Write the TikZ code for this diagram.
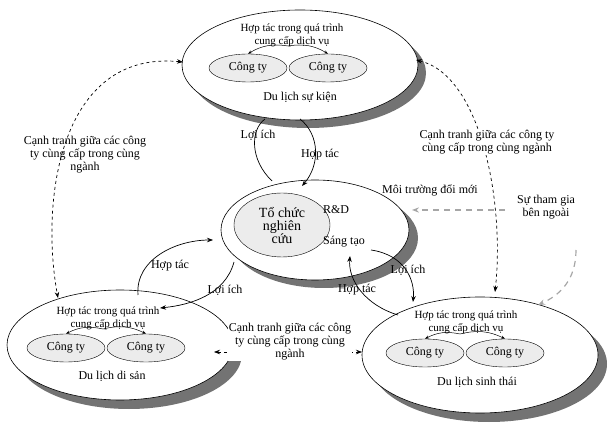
\documentclass[tikz,border=0pt]{standalone}
\usepackage{fontspec}
\setmainfont{Liberation Serif}
\usetikzlibrary{arrows.meta,shapes.geometric}
\begin{document}
\begin{tikzpicture}[x=1pt,y=-1pt,font=\fontsize{12}{13}\selectfont,
 ell/.style={draw,fill=white,line width=0.6pt},
 shadow/.style={fill=black!55},
 inner/.style={draw,fill=gray!15,ellipse,inner sep=0},
 arr/.style={-{Stealth[length=6pt]},line width=0.7pt},
 dsh/.style={{Stealth[length=6pt]}-{Stealth[length=6pt]},dashed,line width=0.7pt},
 gdsh/.style={-{Stealth[length=7pt]},dash pattern=on 6pt off 5pt,line width=1.2pt,gray!70},
 sm/.style={-{Stealth[length=4pt]},line width=0.5pt}]
\useasboundingbox (0,0) rectangle (613,435);
% shadows
\fill[shadow] (308,73) ellipse (118 and 55);
\fill[shadow] (324,238) ellipse (94 and 50);
\fill[shadow] (129,354) ellipse (113 and 55);
\fill[shadow] (489,364) ellipse (118 and 58);
% ellipses
\draw[ell] (300,65) ellipse (118 and 55);
\draw[ell] (315,230) ellipse (94 and 50);
\draw[ell] (120,345) ellipse (113 and 55);
\draw[ell] (480,355) ellipse (118 and 58);
% inner
\node[inner,minimum width=78pt,minimum height=28pt] (t1) at (248,68) {Công ty};
\node[inner,minimum width=78pt,minimum height=28pt] (t2) at (328,68) {Công ty};
\node[inner,minimum width=78pt,minimum height=28pt] (l1) at (66,348) {Công ty};
\node[inner,minimum width=78pt,minimum height=28pt] (l2) at (146,348) {Công ty};
\node[inner,minimum width=78pt,minimum height=28pt] (r1) at (425,353) {Công ty};
\node[inner,minimum width=78pt,minimum height=28pt] (r2) at (505,353) {Công ty};
\node[inner,minimum width=96pt,minimum height=64pt,align=center,font=\fontsize{14}{13}\selectfont] (org) at (282,225) {Tổ chức\\nghiên\\cứu};
% texts
\node[align=center,font=\fontsize{11}{13}\selectfont] (tt) at (292,35) {Hợp tác trong quá trình\\cung cấp dịch vụ};
\node (tn) at (300,97) {Du lịch sự kiện};
\node[align=center,font=\fontsize{11}{13}\selectfont] (lt) at (108,318) {Hợp tác trong quá trình\\cung cấp dịch vụ};
\node (ln) at (112,376) {Du lịch di sản};
\node[align=center,font=\fontsize{11}{13}\selectfont] (rt) at (466,322) {Hợp tác trong quá trình\\cung cấp dịch vụ};
\node (rn) at (477,382) {Du lịch sinh thái};
\node (rd) at (336,210) {R\&D};
\node (st) at (344,242) {Sáng tạo};
% small arrows
\coordinate (ta) at (288,46); \coordinate (la) at (103,329); \coordinate (ra) at (460,334);
\draw[sm] (ta) to[bend right=20] (t1.north);
\draw[sm] (ta) to[bend left=20] (t2.north);
\draw[sm] (la) to[bend right=20] (l1.north);
\draw[sm] (la) to[bend left=20] (l2.north);
\draw[sm] (ra) to[bend right=20] (r1.north);
\draw[sm] (ra) to[bend left=20] (r2.north);
% curved arrows top
\coordinate (a1) at (272,181); \coordinate (a2) at (265,119);
\coordinate (a3) at (300,119); \coordinate (a4) at (302,186);
\draw[line width=0.7pt] (a1) .. controls (250,160) and (250,130) .. (a2);
\draw[arr] (a3) .. controls (320,135) and (320,165) .. (a4);
\node (li1) at (258,135) {Lợi ích};
\node (ht1) at (320,155) {Hợp tác};
% left
\coordinate (b1) at (138,295); \coordinate (b2) at (213,240);
\coordinate (b3) at (234,262); \coordinate (b4) at (160,308);
\draw[arr] (b1) .. controls (135,260) and (175,240) .. (b2);
\draw[arr] (b3) .. controls (225,295) and (190,305) .. (b4);
\node (ht2) at (170,266) {Hợp tác};
\node (li2) at (225,290) {Lợi ích};
% right
\coordinate (c1) at (371,250); \coordinate (c2) at (413,302);
\coordinate (c3) at (398,315); \coordinate (c4) at (350,256);
\draw[arr] (c1) .. controls (405,255) and (415,280) .. (c2);
\draw[arr] (c3) .. controls (365,305) and (348,280) .. (c4);
\node (li3) at (408,270) {Lợi ích};
\node (ht3) at (357,290) {Hợp tác};
% dashed competition
\coordinate (d1) at (183,62); \coordinate (d2) at (58,298);
\draw[dsh] (d1) .. controls (60,50) and (40,200) .. (d2);
\node[align=center] (dl) at (85,155) {Cạnh tranh giữa các công\\ty cùng cấp trong cùng\\ngành};
\coordinate (e1) at (416,60); \coordinate (e2) at (495,292);
\draw[dsh] (e1) .. controls (480,75) and (505,200) .. (e2);
\node[fill=white,inner sep=1pt,align=center] (el) at (487,142) {Cạnh tranh giữa các công ty\\cùng cấp trong cùng ngành};
\coordinate (f1) at (214,352); \coordinate (f2) at (362,352);
\draw[dsh] (f1) -- (f2);
\node[fill=white,inner sep=1pt,align=center] (fl) at (290,342) {Cạnh tranh giữa các công\\ty cùng cấp trong cùng\\ngành};
% gray
\node (mt) at (430,190) {Môi trường đổi mới};
\node[align=center] (sp) at (546,207) {Sự tham gia\\bên ngoài};
\coordinate (g1) at (505,210); \coordinate (g2) at (412,210);
\draw[gdsh] (g1) -- (g2);
\coordinate (h1) at (576,250); \coordinate (h2) at (538,305);
\draw[gdsh] (h1) .. controls (576,280) and (560,295) .. (h2);
\end{tikzpicture}
\end{document}
